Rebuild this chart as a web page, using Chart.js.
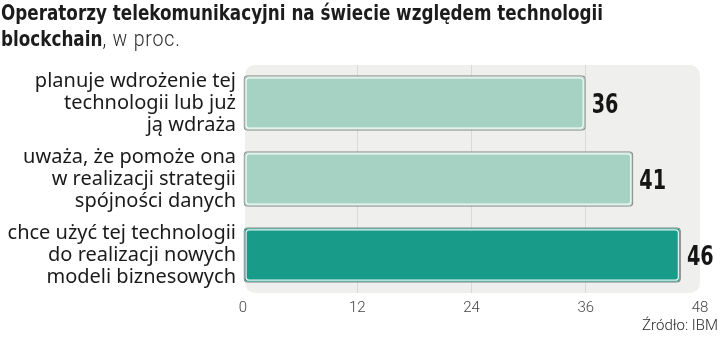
<!DOCTYPE html>
<html lang="pl">
<head>
<meta charset="utf-8">
<script src="https://cdn.jsdelivr.net/npm/chart.js@4"></script>
<style>
  html, body { margin: 0; padding: 0; background: #ffffff; }
  #wrap { position: relative; width: 720px; height: 342px; overflow: hidden; }
  #chart { position: absolute; left: 0; top: 0; }
  .title {
    position: absolute; left: 1px; top: 0px; margin: 0;
    font-family: "DejaVu Sans Condensed", "Liberation Sans Narrow", sans-serif;
    font-size: 21px; line-height: 26px; color: #1c1c1c; font-weight: 700;
    white-space: nowrap; transform-origin: 0 0;
  }
  .title .light { font-family: "Roboto", sans-serif; font-weight: 300; font-size: 22px; letter-spacing: 0.9px; color: #2a2a2a; }
  .source {
    position: absolute; right: 2px; top: 316px;
    font-family: "Roboto", sans-serif; font-weight: 300; font-size: 15px; color: #2a2a2a;
  }
</style>
</head>
<body>
<div id="wrap">
  <canvas id="chart" width="720" height="342"></canvas>
  <div class="title" id="title"><span id="t1">Operatorzy telekomunikacyjni na świecie względem technologii</span><br>blockchain<span class="light">, w proc.</span></div>
  <div class="source">Źródło: IBM</div>
</div>
<script>
// Categories (multi-line labels) and survey shares in percent
const categories = [
  ["planuje wdrożenie tej", "technologii lub już", "ją wdraża"],
  ["uważa, że pomoże ona", "w realizacji strategii", "spójności danych"],
  ["chce użyć tej technologii", "do realizacji nowych", "modeli biznesowych"]
];
const values = [36, 41, 46];
const tickValues = [0, 12, 24, 36, 48];
const barColors = ["#a6d2c4", "#a6d2c4", "#189c89"];

// Narrow the headline to a condensed width
(function () {
  const t = document.getElementById("title");
  const w = document.getElementById("t1").getBoundingClientRect().width;
  t.style.transform = "scaleX(" + (602 / w) + ")";
})();

// Rounded grey panel behind the plot area
const panelPlugin = {
  id: "panel",
  beforeDraw(chart) {
    const { ctx, chartArea: a } = chart;
    ctx.save();
    ctx.fillStyle = "#efefed";
    ctx.beginPath();
    ctx.roundRect(a.left + 2, a.top, a.right - a.left - 2, a.bottom - a.top, 10);
    ctx.fill();
    ctx.restore();
  }
};

// White inner highlight on each bar and the value label after it
const barDecorPlugin = {
  id: "barDecor",
  afterDatasetsDraw(chart) {
    const { ctx } = chart;
    const meta = chart.getDatasetMeta(0);
    meta.data.forEach((bar, i) => {
      const p = bar.getProps(["x", "y", "base", "height"], true);
      const left = p.base, right = p.x;
      const top = p.y - p.height / 2, bottom = p.y + p.height / 2;
      ctx.save();
      ctx.strokeStyle = "rgba(255,255,255,0.9)";
      ctx.lineWidth = 1.2;
      ctx.beginPath();
      ctx.roundRect(left + 2.6, top + 2.6, right - left - 5.2, bottom - top - 5.2, 3);
      ctx.stroke();
      ctx.restore();

      ctx.save();
      ctx.font = "700 27px 'DejaVu Sans Condensed', sans-serif";
      ctx.fillStyle = "#151515";
      ctx.textAlign = "left";
      ctx.textBaseline = "alphabetic";
      ctx.translate(right + 6, p.y + 10);
      ctx.scale(0.79, 1);
      ctx.fillText(String(values[i]), 0, 0);
      ctx.restore();
    });
  }
};

new Chart(document.getElementById("chart"), {
  type: "bar",
  data: {
    labels: categories,
    datasets: [{
      data: values,
      backgroundColor: barColors,
      borderColor: "#8f8f8f",
      borderWidth: 1.3,
      borderRadius: 4,
      borderSkipped: false,
      categoryPercentage: 1,
      barPercentage: 0.73
    }]
  },
  options: {
    indexAxis: "y",
    responsive: false,
    animation: false,
    events: [],
    layout: { padding: { top: 65, right: 20, bottom: 0, left: 0 } },
    plugins: {
      legend: { display: false },
      tooltip: { enabled: false },
      title: { display: false }
    },
    scales: {
      x: {
        min: 0, max: 48,
        afterBuildTicks(scale) { scale.ticks = tickValues.map(v => ({ value: v })); },
        afterFit(scale) { scale.height = 49; },
        border: { display: false },
        grid: {
          drawTicks: false,
          lineWidth: 1,
          color: ctx => (ctx.tick && (ctx.tick.value === 0 || ctx.tick.value === 48)) ? "rgba(0,0,0,0)" : "#d9d9d7"
        },
        ticks: {
          padding: 6,
          color: "#444",
          font: { family: "Roboto", weight: "300", size: 15 }
        }
      },
      y: {
        afterFit(scale) { scale.width = 243; },
        border: { display: false },
        grid: { display: false, drawTicks: false },
        ticks: {
          padding: 7,
          color: "#1a1a1a",
          font: { family: "Noto Sans", size: 20, lineHeight: "22px" }
        }
      }
    }
  },
  plugins: [panelPlugin, barDecorPlugin]
});
</script>
</body>
</html>
